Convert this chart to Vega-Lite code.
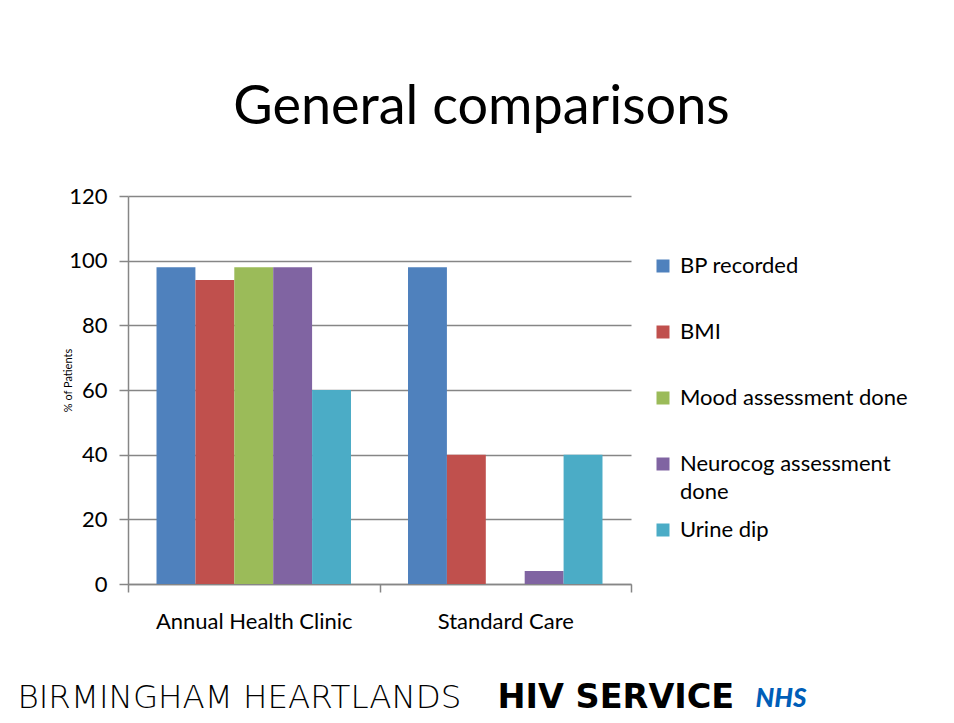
{
  "$schema": "https://vega.github.io/schema/vega-lite/v6.json",
  "width": 503,
  "height": 388,
  "autosize": "none",
  "padding": {"left": 128, "top": 196, "right": 323, "bottom": 139},
  "background": "white",
  "config": {
    "font": "Lato",
    "view": {"stroke": null},
    "style": {"guide-label": {"lineHeight": 28}}
  },
  "title": {
    "text": "General comparisons",
    "font": "Lato",
    "fontSize": 54,
    "fontWeight": "normal",
    "color": "black",
    "anchor": "middle",
    "dx": 102,
    "dy": 66,
    "baseline": "alphabetic",
    "offset": 73
  },
  "data": {
    "values": [
      {"group": "Annual Health Clinic", "measure": "BP recorded", "pct": 98},
      {"group": "Annual Health Clinic", "measure": "BMI", "pct": 94},
      {"group": "Annual Health Clinic", "measure": "Mood assessment done", "pct": 98},
      {"group": "Annual Health Clinic", "measure": "Neurocog assessment done", "pct": 98},
      {"group": "Annual Health Clinic", "measure": "Urine dip", "pct": 60},
      {"group": "Standard Care", "measure": "BP recorded", "pct": 98},
      {"group": "Standard Care", "measure": "BMI", "pct": 40},
      {"group": "Standard Care", "measure": "Mood assessment done", "pct": 0},
      {"group": "Standard Care", "measure": "Neurocog assessment done", "pct": 4},
      {"group": "Standard Care", "measure": "Urine dip", "pct": 40}
    ]
  },
  "resolve": {"axis": {"x": "independent", "y": "independent"}},
  "layer": [
    {
      "mark": {"type": "bar"},
      "encoding": {
        "x": {
          "field": "group",
          "type": "nominal",
          "sort": null,
          "scale": {"paddingInner": 0, "paddingOuter": 0},
          "axis": {
            "orient": "bottom",
            "title": "BIRMINGHAM HEARTLANDS",
            "titleFont": "DejaVu Sans",
            "titleFontSize": 32.5,
            "titleFontWeight": 200,
            "titleColor": "black",
            "titleX": -111,
            "titleY": 123,
            "titleAlign": "left",
            "titleBaseline": "alphabetic",
            "titleAngle": 0,
            "labelAngle": 0,
            "labelFontSize": 22,
            "labelColor": "black",
            "labelBaseline": "alphabetic",
            "labelPadding": 36,
            "labelLimit": 400,
            "tickBand": "extent",
            "tickSize": 8,
            "tickColor": "#868686",
            "tickWidth": 1.5,
            "domainColor": "#868686",
            "domainWidth": 1.5,
            "grid": false
          }
        },
        "xOffset": {
          "field": "measure",
          "type": "nominal",
          "sort": ["BP recorded", "BMI", "Mood assessment done", "Neurocog assessment done", "Urine dip"],
          "scale": {"paddingInner": 0, "paddingOuter": 0.733}
        },
        "y": {
          "field": "pct",
          "type": "quantitative",
          "scale": {"domain": [0, 120], "nice": false},
          "axis": {
            "orient": "left",
            "values": [0, 20, 40, 60, 80, 100, 120],
            "title": "% of Patients",
            "titleFontSize": 11,
            "titleFontWeight": "normal",
            "titleColor": "black",
            "titleX": -60,
            "titleY": 184,
            "titleAlign": "center",
            "titleBaseline": "middle",
            "labelFontSize": 22,
            "labelColor": "black",
            "labelPadding": 12,
            "tickSize": 9,
            "tickColor": "#868686",
            "tickWidth": 1.5,
            "domainColor": "#868686",
            "domainWidth": 1.5,
            "grid": true,
            "gridColor": "#868686",
            "gridWidth": 1.5
          }
        },
        "color": {
          "field": "measure",
          "type": "nominal",
          "sort": ["BP recorded", "BMI", "Mood assessment done", "Neurocog assessment done", "Urine dip"],
          "scale": {
            "domain": ["BP recorded", "BMI", "Mood assessment done", "Neurocog assessment done", "Urine dip"],
            "range": ["#4F81BD", "#C0504D", "#9BBB59", "#8064A2", "#4BACC6"]
          },
          "legend": {
            "orient": "none",
            "legendX": 524,
            "legendY": 59,
            "title": null,
            "symbolType": "square",
            "symbolSize": 169,
            "symbolStrokeWidth": 0,
            "labelFontSize": 22,
            "labelColor": "black",
            "labelOffset": 6,
            "labelLimit": 400,
            "gridAlign": "all",
            "rowPadding": 16,
            "labelExpr": "datum.label == 'Neurocog assessment done' ? ['Neurocog assessment', 'done'] : datum.label"
          }
        }
      }
    },
    {
      "mark": {"type": "bar", "opacity": 0},
      "encoding": {
        "x": {
          "field": "group",
          "type": "nominal",
          "sort": null,
          "axis": {
            "orient": "top",
            "title": "NHS",
            "titleFont": "Lato",
            "titleFontSize": 26,
            "titleFontWeight": 900,
            "titleFontStyle": "italic",
            "titleColor": "#005EB8",
            "titleX": 627,
            "titleY": 510,
            "titleAlign": "left",
            "titleBaseline": "alphabetic",
            "titleAngle": 0,
            "labels": false,
            "ticks": false,
            "domain": false,
            "grid": false
          }
        },
        "xOffset": {
          "field": "measure",
          "type": "nominal",
          "sort": ["BP recorded", "BMI", "Mood assessment done", "Neurocog assessment done", "Urine dip"]
        },
        "y": {
          "field": "pct",
          "type": "quantitative",
          "axis": {
            "orient": "right",
            "title": "HIV SERVICE",
            "titleFont": "DejaVu Sans",
            "titleFontSize": 33.5,
            "titleFontWeight": "bold",
            "titleColor": "black",
            "titleX": -134,
            "titleY": 511,
            "titleAlign": "left",
            "titleBaseline": "alphabetic",
            "titleAngle": 0,
            "labels": false,
            "ticks": false,
            "domain": false,
            "grid": false
          }
        }
      }
    }
  ]
}
